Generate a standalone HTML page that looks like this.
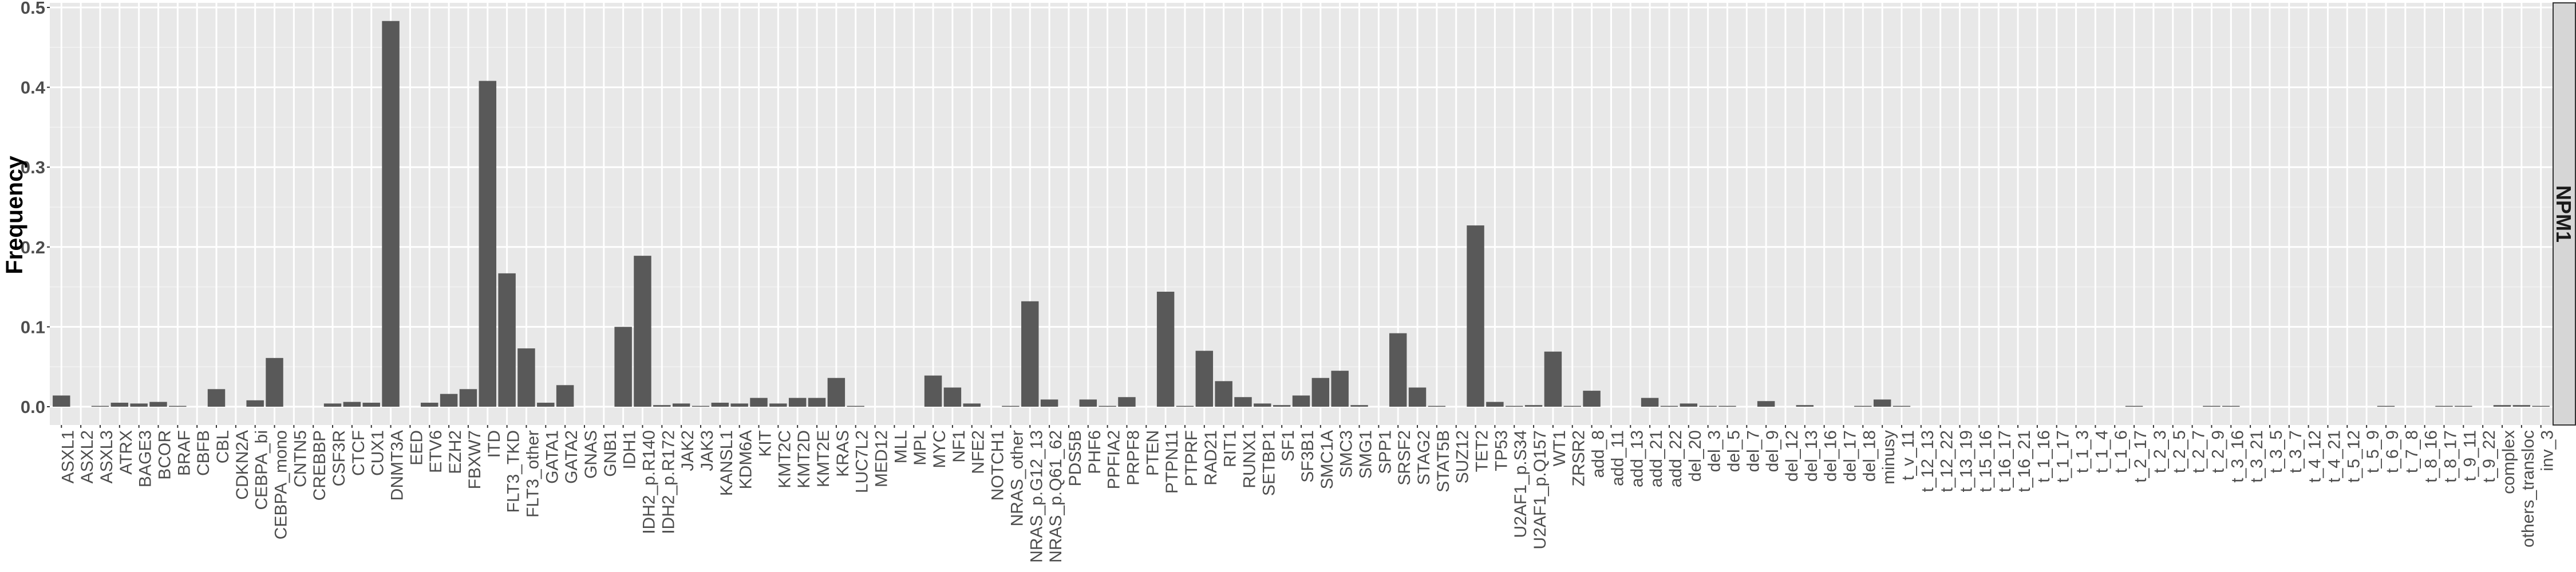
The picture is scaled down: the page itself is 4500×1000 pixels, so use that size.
<!DOCTYPE html>
<html><head><meta charset="utf-8">
<style>
html,body{margin:0;padding:0;background:#fff;}
svg{display:block;}
</style></head>
<body>
<svg id="chart" xmlns="http://www.w3.org/2000/svg" width="4500" height="1000" viewBox="0 0 4500 1000">
  <rect x="0" y="0" width="4500" height="1000" fill="#ffffff"/>
  <rect x="87" y="5" width="4372" height="738" fill="#e8e8e8"/>
  <g id="grid"></g>
  <g id="bars"></g>
  <g id="yaxis"></g>
  <g id="xaxis"></g>
  <text x="0" y="0" transform="translate(39,376) rotate(-90)" text-anchor="middle" font-family="Liberation Sans, sans-serif" font-weight="bold" font-size="41" fill="#000">Frequency</text>
  <rect x="4460" y="5" width="39" height="738" fill="#d6d6d6" stroke="#333" stroke-width="2"/>
  <text x="0" y="0" transform="translate(4466,374) rotate(90)" text-anchor="middle" font-family="Liberation Sans, sans-serif" font-weight="bold" font-size="36" fill="#1a1a1a">NPM1</text>
</svg>
<script>
const categories = ["ASXL1","ASXL2","ASXL3","ATRX","BAGE3","BCOR","BRAF","CBFB","CBL","CDKN2A","CEBPA_bi","CEBPA_mono","CNTN5","CREBBP","CSF3R","CTCF","CUX1","DNMT3A","EED","ETV6","EZH2","FBXW7","ITD","FLT3_TKD","FLT3_other","GATA1","GATA2","GNAS","GNB1","IDH1","IDH2_p.R140","IDH2_p.R172","JAK2","JAK3","KANSL1","KDM6A","KIT","KMT2C","KMT2D","KMT2E","KRAS","LUC7L2","MED12","MLL","MPL","MYC","NF1","NFE2","NOTCH1","NRAS_other","NRAS_p.G12_13","NRAS_p.Q61_62","PDS5B","PHF6","PPFIA2","PRPF8","PTEN","PTPN11","PTPRF","RAD21","RIT1","RUNX1","SETBP1","SF1","SF3B1","SMC1A","SMC3","SMG1","SPP1","SRSF2","STAG2","STAT5B","SUZ12","TET2","TP53","U2AF1_p.S34","U2AF1_p.Q157","WT1","ZRSR2","add_8","add_11","add_13","add_21","add_22","del_20","del_3","del_5","del_7","del_9","del_12","del_13","del_16","del_17","del_18","minusy","t_v_11","t_12_13","t_12_22","t_13_19","t_15_16","t_16_17","t_16_21","t_1_16","t_1_17","t_1_3","t_1_4","t_1_6","t_2_17","t_2_3","t_2_5","t_2_7","t_2_9","t_3_16","t_3_21","t_3_5","t_3_7","t_4_12","t_4_21","t_5_12","t_5_9","t_6_9","t_7_8","t_8_16","t_8_17","t_9_11","t_9_22","complex","others_transloc","inv_3"];
const frequency = [0.014,0,0.001,0.005,0.004,0.006,0.001,0,0.022,0,0.008,0.061,0,0,0.004,0.006,0.005,0.483,0,0.005,0.016,0.022,0.408,0.167,0.073,0.005,0.027,0,0,0.100,0.189,0.002,0.004,0.001,0.005,0.004,0.011,0.004,0.011,0.011,0.036,0.001,0,0,0,0.039,0.024,0.004,0,0.001,0.132,0.009,0,0.009,0.001,0.012,0,0.144,0.001,0.070,0.032,0.012,0.004,0.002,0.014,0.036,0.045,0.002,0,0.092,0.024,0.001,0,0.227,0.006,0.001,0.002,0.069,0.001,0.020,0,0,0.011,0.001,0.004,0.001,0.001,0,0.007,0,0.002,0,0,0.001,0.009,0.001,0,0,0,0,0,0,0,0,0,0,0,0.001,0,0,0,0.001,0.001,0,0,0,0,0,0,0,0.001,0,0,0.001,0.001,0,0.002,0.002,0.001];
const yTicks = [0, 0.1, 0.2, 0.3, 0.4, 0.5];
const yTickLabels = ["0.0","0.1","0.2","0.3","0.4","0.5"];
const yMinor = [0.05, 0.15, 0.25, 0.35, 0.45];

const NS = "http://www.w3.org/2000/svg";
const panelL = 87, panelR = 4459, panelT = 5, panelB = 743;
const y0px = 711, unitPx = 1396;
function yScale(v){ return y0px - v * unitPx; }
const step = (panelR - panelL) / (categories.length - 1 + 1.2);
function xScale(i){ return panelL + step * (0.6 + i); }
const barW = step * 0.9;

function mk(tag, attrs, parent){
  const el = document.createElementNS(NS, tag);
  for (const k in attrs) el.setAttribute(k, attrs[k]);
  parent.appendChild(el);
  return el;
}
const grid = document.getElementById('grid');
const bars = document.getElementById('bars');
const yaxis = document.getElementById('yaxis');
const xaxis = document.getElementById('xaxis');

yMinor.forEach(v => {
  const l = mk('line', {x1: panelL, x2: panelR, y1: yScale(v), y2: yScale(v), stroke: '#f3f3f3', 'stroke-width': 1.5}, grid);
  
  
});
yTicks.forEach((v, i) => {
  const y = yScale(v);
  const l = mk('line', {x1: panelL, x2: panelR, y1: y, y2: y, stroke: '#ffffff', 'stroke-width': 3}, grid);
  
  
  const t = mk('line', {x1: panelL - 5, x2: panelL, y1: y, y2: y, stroke: '#333', 'stroke-width': 2}, yaxis);
  
  
  const tx = mk('text', {x: 79, y: y + 11, 'text-anchor': 'end', 'font-family': 'Liberation Sans, sans-serif', 'font-weight': 'bold', 'font-size': 31, fill: '#4d4d4d'}, yaxis);
  tx.textContent = yTickLabels[i];
  
  
});
categories.forEach((c, i) => {
  const x = xScale(i);
  const g = mk('line', {x1: x, x2: x, y1: panelT, y2: panelB, stroke: '#ffffff', 'stroke-width': 3}, grid);
  
  
  const v = frequency[i];
  if (v > 0) {
    const top = yScale(v);
    const b = mk('rect', {x: x - barW / 2, y: top, width: barW, height: Math.max(y0px - top, 1.5), fill: '#595959'}, bars);
    
    
  }
  const t = mk('line', {x1: x, x2: x, y1: panelB, y2: panelB + 5, stroke: '#333', 'stroke-width': 2}, xaxis);
  
  
  const tx = mk('text', {x: 0, y: 0, transform: 'translate(' + (x + 21) + ',752) rotate(-90)', 'text-anchor': 'end', 'font-family': 'Liberation Sans, sans-serif', 'font-size': 30, fill: '#4d4d4d'}, xaxis);
  tx.textContent = c;
  
  
});
</script>
</body></html>
